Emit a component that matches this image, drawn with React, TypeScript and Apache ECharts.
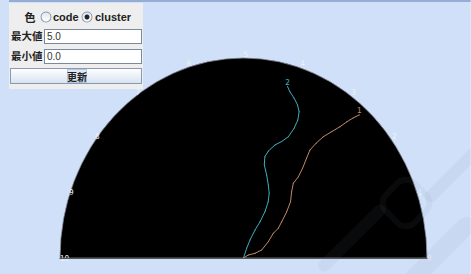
import React, { useEffect, useRef } from "react";
import * as echarts from "echarts";

// ---- data ----
const angleMin = 0;
const angleMax = 10;
const angleInterval = 1;
const radiusMax = 1;

const clusterNames = ["1", "2"];

// cluster 1 (orange): radius and angle (angle in axis units 0..10)
const cluster1Radius = [0, 0.03, 0.067, 0.107, 0.158, 0.204, 0.241, 0.276, 0.33, 0.381, 0.423, 0.462, 0.504, 0.553, 0.606, 0.65, 0.696, 0.746, 0.794, 0.841, 0.884, 0.922, 0.954];
const cluster1Angle = [1.6, 1.66, 1.14, 1.22, 1.73, 2.07, 2.12, 2.28, 2.47, 2.65, 2.87, 3.0, 2.98, 3.02, 3.08, 3.12, 3.08, 3.02, 2.93, 2.85, 2.8, 2.75, 2.7];

// cluster 2 (cyan)
const cluster2Radius = [0, 0.052, 0.097, 0.153, 0.203, 0.26, 0.312, 0.353, 0.389, 0.434, 0.479, 0.52, 0.552, 0.591, 0.618, 0.654, 0.705, 0.751, 0.792, 0.82, 0.845, 0.869, 0.89];
const cluster2Angle = [3.9, 3.91, 3.81, 3.66, 3.53, 3.51, 3.58, 3.7, 3.87, 4.06, 4.24, 4.28, 4.21, 4.06, 3.91, 3.78, 3.72, 3.71, 3.75, 3.83, 3.94, 4.06, 4.13];

// panel texts
const colorLabel = "色";
const colorModes = ["code", "cluster"];
const selectedMode = "cluster";
const maxLabel = "最大値";
const minLabel = "最小値";
const maxValue = "5.0";
const minValue = "0.0";
const updateLabel = "更新";

// ---- layout / styles ----
const W = 471;
const H = 274;
const SX = 0.9175;
const INNER_W = W / SX;
const CX = 243.5;
const CY = 258;
const R = 200;
const clusterColors = ["#c89068", "#42b4c4"];

function buildSeries(name: string, radius: number[], angle: number[], color: string) {
  const last = radius.length - 1;
  return {
    type: "line",
    name,
    coordinateSystem: "polar",
    silent: true,
    z: 5,
    symbol: "circle",
    symbolSize: 1,
    showSymbol: true,
    lineStyle: { color, width: 1 },
    itemStyle: { color },
    data: radius.map((r, i) =>
      i === last
        ? {
            value: [r, angle[i]],
            label: {
              show: true,
              formatter: name,
              position: "top",
              distance: 0,
              color,
              fontSize: 8,
              fontFamily: "DejaVu Sans",
            },
          }
        : [r, angle[i]]
    ),
  };
}

const cjk = "'Noto Sans CJK JP', sans-serif";
const latin = "'Liberation Sans', Arial, sans-serif";

function panelGraphics() {
  const kids: any[] = [];
  kids.push({ type: "line", z: 100, shape: { x1: 9, y1: 1, x2: W, y2: 1 }, style: { stroke: "#7f9cc8", lineWidth: 1.5 } });
  kids.push({ type: "rect", z: 100, shape: { x: 9, y: 3, width: 134, height: 86 }, style: { fill: "#eeeeee" } });
  kids.push({ type: "text", z: 101, style: { x: 30, y: 17, text: colorLabel, font: `bold 11px ${cjk}`, fill: "#222", align: "center", verticalAlign: "middle" } });
  const radioX = [46, 87];
  const textX = [53, 95];
  colorModes.forEach((m, i) => {
    kids.push({
      type: "circle",
      z: 101,
      shape: { cx: radioX[i], cy: 17, r: 5 },
      style: {
        fill: new echarts.graphic.LinearGradient(0, 0, 0, 1, [
          { offset: 0, color: "#dfe6ee" },
          { offset: 1, color: "#ffffff" },
        ]),
        stroke: "#8899b0",
        lineWidth: 1,
      },
    });
    if (m === selectedMode) {
      kids.push({ type: "circle", z: 102, shape: { cx: radioX[i], cy: 17, r: 2.5 }, style: { fill: "#222" } });
    }
    kids.push({ type: "text", z: 101, style: { x: textX[i], y: 17, text: m, font: `bold 11px ${latin}`, fill: "#222", verticalAlign: "middle" } });
  });
  const rows = [
    { label: maxLabel, value: maxValue, y: 29 },
    { label: minLabel, value: minValue, y: 49 },
  ];
  rows.forEach((r) => {
    kids.push({ type: "text", z: 101, style: { x: 11, y: r.y + 7, text: r.label, font: `bold 10.5px ${cjk}`, fill: "#222", verticalAlign: "middle" } });
    kids.push({ type: "rect", z: 101, shape: { x: 44.5, y: r.y + 0.5, width: 97, height: 14 }, style: { fill: "#ffffff", stroke: "#7a8a9c", lineWidth: 1 } });
    kids.push({ type: "text", z: 102, style: { x: 47, y: r.y + 7.5, text: r.value, font: `10px ${latin}`, fill: "#333", verticalAlign: "middle" } });
  });
  kids.push({
    type: "rect",
    z: 101,
    shape: { x: 10.5, y: 68.5, width: 131, height: 15 },
    style: {
      fill: new echarts.graphic.LinearGradient(0, 0, 0, 1, [
        { offset: 0, color: "#ffffff" },
        { offset: 1, color: "#d6e2f0" },
      ]),
      stroke: "#8a9ab0",
      lineWidth: 1,
    },
  });
  kids.push({ type: "rect", z: 102, shape: { x: 67.5, y: 69.5, width: 19, height: 13 }, style: { fill: "rgba(200,215,235,0.5)", stroke: "#b5c8e0", lineWidth: 1 } });
  kids.push({ type: "text", z: 103, style: { x: 77, y: 76.5, text: updateLabel, font: `bold 10px ${cjk}`, fill: "#222", align: "center", verticalAlign: "middle" } });
  return kids;
}

function watermark() {
  const f = "rgba(120,130,150,0.08)";
  const rot = Math.PI / 4;
  return [
    { type: "rect", z: 90, x: 352, y: 238, rotation: rot, shape: { x: -45, y: -6, width: 90, height: 12, r: 6 }, style: { fill: f } },
    { type: "rect", z: 90, x: 406, y: 203, rotation: rot, shape: { x: -20, y: -20, width: 40, height: 40, r: 12 }, style: { fill: "none", stroke: f, lineWidth: 6 } },
    { type: "rect", z: 90, x: 430, y: 262, rotation: rot, shape: { x: -60, y: -9, width: 120, height: 18, r: 9 }, style: { fill: f } },
    { type: "rect", z: 90, x: 455, y: 172, rotation: rot, shape: { x: -40, y: -6, width: 80, height: 12, r: 6 }, style: { fill: f } },
  ];
}

export default function App() {
  const ref = useRef<HTMLDivElement>(null);
  useEffect(() => {
    document.body.style.margin = "0";
    const chart = echarts.init(ref.current!, null, { renderer: "svg", width: INNER_W, height: H });
    chart.setOption({
      animation: false,
      backgroundColor: "#cfe0f8",
      polar: { center: [CX / SX, CY], radius: R },
      angleAxis: {
        type: "value",
        min: angleMin,
        max: angleMax,
        interval: angleInterval,
        startAngle: 0,
        endAngle: 180,
        clockwise: false,
        z: 3,
        axisLine: { show: false },
        axisTick: { show: false },
        splitLine: { show: false },
        splitArea: { show: false },
        axisLabel: {
          show: true,
          margin: 0,
          formatter: (v: number) => `{t|${v}}`,
          rich: {
            t: { width: 0.1, align: "left", color: "#f2f2f4", fontSize: 8, fontFamily: "DejaVu Sans" },
          },
          color: "#f2f2f4",
          fontSize: 8,
          fontFamily: "DejaVu Sans",
        },
      },
      radiusAxis: { type: "value", min: 0, max: radiusMax, show: false },
      series: [
        buildSeries(clusterNames[0], cluster1Radius, cluster1Angle, clusterColors[0]),
        buildSeries(clusterNames[1], cluster2Radius, cluster2Angle, clusterColors[1]),
      ],
      graphic: [
        {
          type: "sector",
          z: 0,
          silent: true,
          shape: { cx: CX / SX, cy: CY, r: R, r0: 0, startAngle: Math.PI, endAngle: 2 * Math.PI, clockwise: true },
          style: { fill: "#000000", stroke: "#8a8f99", lineWidth: 0.8 },
        },
        {
          type: "group",
          x: 0,
          y: 0,
          scaleX: 1 / SX,
          children: [
            { type: "line", z: 50, shape: { x1: CX - 184, y1: CY + 0.5, x2: CX + 184, y2: CY + 0.5 }, style: { stroke: "#555", lineWidth: 1 } },
            ...watermark(),
            ...panelGraphics(),
          ],
        },
      ],
    });
    return () => chart.dispose();
  }, []);
  return (
    <div style={{ width: W, height: H, overflow: "hidden", position: "relative" }}>
      <div ref={ref} style={{ width: INNER_W, height: H, transform: `scaleX(${SX})`, transformOrigin: "0 0" }} />
    </div>
  );
}
